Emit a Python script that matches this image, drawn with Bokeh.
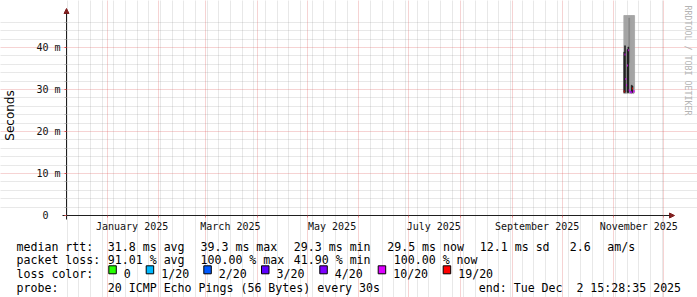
import numpy as np
import pandas as pd
from bokeh.plotting import figure
from bokeh.models import (Range1d, FixedTicker, Grid, Label, BoxAnnotation, Arrow, NormalHead,
                          ColumnDataSource)
from bokeh.embed import file_html
from bokeh.resources import INLINE

nan = float("nan")

# ---------------- data ----------------
range_start = "2024-12-07 15:28:35"
range_end = "2025-12-02 15:28:35"

step_start = ["2025-11-07 00:00", "2025-11-07 12:00", "2025-11-08 00:00", "2025-11-08 12:00",
              "2025-11-09 00:00", "2025-11-09 12:00", "2025-11-10 00:00", "2025-11-10 12:00",
              "2025-11-11 00:00", "2025-11-11 12:00", "2025-11-12 00:00", "2025-11-12 12:00",
              "2025-11-13 00:00"]
median_rtt = [29.5, 38.3, 32.5, 31.0, 35.7, 39.3, 29.8, 29.5, 29.4, 29.3, 30.2, 29.5, 29.6]
loss_pct = [97.0, 60.0, 75.0, 80.0, 55.0, 62.0, 85.0, 70.0, 41.9, 88.0, 96.5, 72.0, 90.0]
smoke_lo = [29.0, 29.1, 29.0, 29.2, 29.0, 29.1, 29.2, 29.0, 29.1, 29.0, 29.1, 29.0, 29.2]
smoke_hi = [55.2, 58.1, 52.4, 50.3, 61.0, 57.5, 53.8, 49.9, 51.2, 54.6, 50.8, 49.5, 48.9]
mid_lo = [nan, nan, nan, nan, nan, nan, 36.4, nan, nan, nan, nan, nan, nan]
mid_hi = [nan, nan, nan, nan, nan, nan, 47.0, nan, nan, nan, nan, nan, nan]
dense_lo = [29.3, 29.3, nan, nan, 29.3, 29.3, nan, nan, nan, 29.3, 29.3, nan, nan]
dense_hi = [38.9, 40.4, nan, nan, 39.5, 40.1, nan, nan, nan, 31.0, 30.8, nan, nan]

y_ticks = [0, 10, 20, 30, 40]
y_tick_labels = ["0", "10 m", "20 m", "30 m", "40 m"]
x_tick_labels = ["January 2025", "March 2025", "May 2025", "July 2025",
                 "September 2025", "November 2025"]

loss_labels = ["0", "1/20", "2/20", "3/20", "4/20", "10/20", "19/20"]
loss_thresholds = [0, 1, 2, 3, 4, 10, 19]
loss_colors = ["#26ff00", "#00b8ff", "#0059ff", "#5e00ff", "#7e00ff", "#dd00ff", "#ff0000"]

rtt_stats = ["31.8 ms avg", "39.3 ms max", "29.3 ms min", "29.5 ms now", "12.1 ms sd", "2.6", "am/s"]
loss_stats = ["91.01 % avg", "100.00 % max", "41.90 % min", "100.00 % now"]
probe_text = "20 ICMP Echo Pings (56 Bytes) every 30s"
end_text = ["end: Tue Dec", "2 15:28:35 2025"]
watermark = "RRDTOOL / TOBI OETIKER"


# ---------------- helpers ----------------
def ms(t):
    return pd.Timestamp(t).value / 1e6


def loss_color(pct):
    cnt = round(pct * 20 / 100)
    col = loss_colors[0]
    for th, c in zip(loss_thresholds, loss_colors):
        if cnt >= th:
            col = c
    return col


W, H = 697, 297
x0, x1 = ms(range_start), ms(range_end)
MPP = (x1 - x0) / 600.0          # ms of time per pixel (600 px data area)
YMAX = 47.6                      # top of data area (ms rtt)
PXY = 200.0 / YMAX               # px per ms of rtt
FL, FB = 66, 215                 # data-area left / bottom in canvas px
CW = 6.97                        # legend character pitch (px)

AX_C, GRID_C, MGRID_C, ARROW_C = "#1f1f1f", "#8f8f8f", "#de4f4f", "#801f1f"
MONO = "DejaVu Sans Mono"

# the frame covers the whole canvas; axes are pinned with fixed_location
p = figure(width=W, height=H, output_backend="svg", toolbar_location=None,
           x_range=Range1d(x0 - FL * MPP, x1 + (W - FL - 600) * MPP),
           y_range=Range1d(-(H - FB) / PXY, YMAX + (FB - 200) / PXY),
           min_border_left=0, min_border_right=0, min_border_top=0, min_border_bottom=0)
p.background_fill_color = "white"
p.border_fill_color = "white"
p.outline_line_color = None
p.grid.visible = False


def sx(px):
    return px


def sy(py):
    return H - py


# grids
sundays = [t for t in pd.date_range(pd.Timestamp(range_start).normalize(), range_end, freq="W-SUN")
           if t.day != 1 and ms(t) >= x0]
month_starts = [t for t in pd.date_range("2024-12-01", range_end, freq="MS") if ms(t) >= x0]
week_ticks = [ms(t) for t in sundays]
month_ticks = [ms(t) for t in month_starts]
y_minor = [v for v in np.arange(2, YMAX, 2).tolist() if v % 10 != 0]
y_major = [v for v in y_ticks if v > 0]

vb = (0, YMAX + 0.4)
hb = (x0, x1 + 2 * MPP)
for dim, ticks, col, alpha, bnd in [(0, week_ticks, GRID_C, 0.4, vb), (1, y_minor, GRID_C, 0.4, hb),
                                    (0, month_ticks, MGRID_C, 0.5, vb), (1, y_major, MGRID_C, 0.5, hb)]:
    g = Grid(dimension=dim, ticker=FixedTicker(ticks=ticks), grid_line_color=col, bounds=bnd,
             grid_line_alpha=alpha, grid_line_dash="1 1", grid_line_width=1)
    p.add_layout(g, "center")

# data (smoke clipped at the top of the data area, like rrdtool)
t0 = np.array([ms(t) for t in step_start])
half_day = 12 * 3600 * 1000
src = ColumnDataSource(dict(left=t0, right=t0 + half_day,
                            lo=smoke_lo, hi=np.minimum(smoke_hi, YMAX),
                            mlo=mid_lo, mhi=np.minimum(mid_hi, YMAX),
                            dlo=dense_lo, dhi=np.minimum(dense_hi, YMAX),
                            med=median_rtt, col=[loss_color(v) for v in loss_pct]))
for lo, hi, c in [("lo", "hi", "#a3a3a3"), ("mlo", "mhi", "#878787"), ("dlo", "dhi", "#1c1c1c")]:
    p.quad(left="left", right="right", bottom=lo, top=hi, source=src,
           fill_color=c, line_color=c, line_width=0.6)
p.segment(x0="left", x1="right", y0="med", y1="med", line_color="col", line_width=2, source=src)

# y axis
yax = p.yaxis[0]
yax.fixed_location = x0
yax.ticker = FixedTicker(ticks=y_ticks, minor_ticks=y_minor)
yax.major_label_overrides = {v: (l if " " in l else l + "\u00a0\u00a0")
                             for v, l in zip(y_ticks, y_tick_labels)}
yax.bounds = (-4 / PXY, YMAX + 0.9)
yax.major_label_text_font = MONO
yax.major_label_text_font_size = "10px"
yax.major_label_text_color = "#111111"
yax.major_tick_out = 2
yax.major_tick_in = 0
yax.major_tick_line_color = MGRID_C
yax.minor_tick_out = 2
yax.minor_tick_in = 0
yax.minor_tick_line_color = "#b8b8b8"
yax.major_label_standoff = 4
yax.axis_line_color = AX_C
yax.axis_label = "Seconds"
yax.axis_label_text_font = "DejaVu Sans"
yax.axis_label_text_font_size = "12px"
yax.axis_label_text_font_style = "normal"
yax.axis_label_text_color = "#000000"
yax.axis_label_standoff = 16

# x axis
xax = p.xaxis[0]
xax.fixed_location = 0
label_pos = [ms(pd.to_datetime(l, format="%B %Y") + pd.Timedelta(days=15)) for l in x_tick_labels]
xax.ticker = FixedTicker(ticks=label_pos, minor_ticks=month_ticks)
xax.major_label_overrides = {v: l for v, l in zip(label_pos, x_tick_labels)}
xax.bounds = (x0 - 4 * MPP, x1 + 3 * MPP)
xax.major_label_text_font = MONO
xax.major_label_text_font_size = "10px"
xax.major_label_text_color = "#111111"
xax.major_tick_out = 0
xax.major_tick_in = 0
xax.minor_tick_out = 2
xax.minor_tick_in = 0
xax.minor_tick_line_color = MGRID_C
xax.minor_tick_line_alpha = 0.6
xax.major_label_standoff = 3
xax.axis_line_color = AX_C

# arrow heads at the axis ends
p.add_layout(Arrow(x_start=x0, y_start=YMAX, x_end=x0, y_end=YMAX + 7 / PXY,
                   line_color=AX_C, line_width=1,
                   end=NormalHead(size=5, fill_color=ARROW_C, line_color=ARROW_C)))
p.add_layout(Arrow(x_start=x1, y_start=0, x_end=x1 + 8 * MPP, y_end=0,
                   line_color=AX_C, line_width=1,
                   end=NormalHead(size=5, fill_color=ARROW_C, line_color=ARROW_C)))

# watermark
p.add_layout(Label(x=sx(687), y=sy(5), x_units="screen", y_units="screen", text=watermark,
                   angle=-np.pi / 2, angle_units="rad", text_font=MONO, text_font_size="8.3px",
                   text_color="#b4b4b4", text_align="left", text_baseline="middle"))


# ---------------- legend block ----------------
def txt(x, y, s):
    p.add_layout(Label(x=sx(x), y=sy(y), x_units="screen", y_units="screen", text=s,
                       text_font=MONO, text_font_size="11.6px", text_color="#000000",
                       text_align="left", text_baseline="alphabetic"))


row_y = [246.0, 259.7, 273.4, 287.1]
txt(16, row_y[0], "median rtt:")
for x, s in zip([107.3, 200, 293.3, 386.7, 479.3, 569.3, 606.7], rtt_stats):
    txt(x, row_y[0], s)
txt(16, row_y[1], "packet loss:")
for x, s in zip([107.3, 200, 293.3, 393.3], loss_stats):
    txt(x, row_y[1], s)
txt(16, row_y[2], "loss color:")
sw_x = [108.3, 145.7, 203.3, 261.0, 319.3, 377.7, 442.7]
for x, s, c in zip(sw_x, loss_labels, loss_colors):
    p.add_layout(BoxAnnotation(left=sx(x), right=sx(x + 7.5), top=sy(265.3), bottom=sy(273.3),
                               left_units="screen", right_units="screen",
                               top_units="screen", bottom_units="screen",
                               fill_color=c, fill_alpha=1.0, line_color="#000000",
                               line_width=1, line_alpha=1.0))
    txt(x + 15, row_y[2], s)
txt(16, row_y[3], "probe:")
txt(107.3, row_y[3], probe_text)
txt(478.3, row_y[3], end_text[0])
txt(478.3 + (len(end_text[0]) + 2) * CW, row_y[3], end_text[1])

open("out.html", "w").write(file_html(p, INLINE))
